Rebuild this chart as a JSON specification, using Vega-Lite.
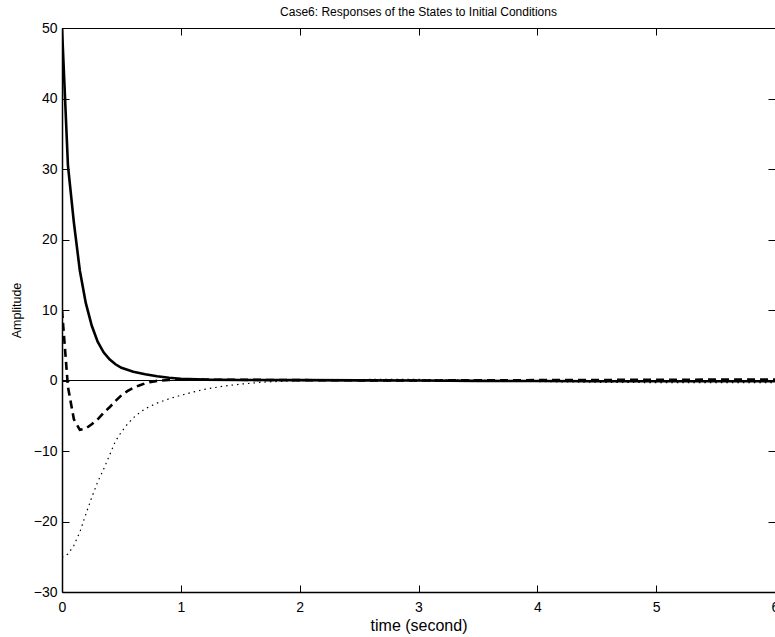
{
  "$schema": "https://vega.github.io/schema/vega-lite/v6.json",
  "width": 713,
  "height": 564,
  "autosize": {"type": "none"},
  "padding": {"left": 62, "top": 28, "right": 0, "bottom": 45},
  "background": "white",
  "title": {"text": "Case6: Responses of the States to Initial Conditions", "font": "Liberation Sans", "fontSize": 12, "fontWeight": "normal", "color": "black", "anchor": "middle", "offset": 2},
  "config": {
    "view": {"stroke": null},
    "axis": {"grid": false, "labelFont": "Liberation Sans", "labelFontSize": 14, "labelColor": "black", "domainColor": "black", "tickColor": "black", "titleFont": "Liberation Sans", "titleFontWeight": "normal", "titleColor": "black"}
  },
  "data": {"values": [
    {"t": 0, "v": 50, "s": "x1"}, {"t": 0.05, "v": 30.5, "s": "x1"}, {"t": 0.1, "v": 22.4, "s": "x1"}, {"t": 0.15, "v": 15.6, "s": "x1"}, {"t": 0.2, "v": 11, "s": "x1"}, {"t": 0.25, "v": 7.8, "s": "x1"}, {"t": 0.3, "v": 5.5, "s": "x1"}, {"t": 0.35, "v": 4.0, "s": "x1"}, {"t": 0.4, "v": 3.0, "s": "x1"}, {"t": 0.45, "v": 2.3, "s": "x1"}, {"t": 0.5, "v": 1.8, "s": "x1"}, {"t": 0.6, "v": 1.25, "s": "x1"}, {"t": 0.7, "v": 0.9, "s": "x1"}, {"t": 0.8, "v": 0.6, "s": "x1"}, {"t": 0.9, "v": 0.4, "s": "x1"}, {"t": 1.0, "v": 0.25, "s": "x1"}, {"t": 1.2, "v": 0.12, "s": "x1"}, {"t": 1.5, "v": 0.08, "s": "x1"}, {"t": 2, "v": 0.05, "s": "x1"}, {"t": 2.5, "v": 0.02, "s": "x1"}, {"t": 3, "v": 0, "s": "x1"}, {"t": 3.5, "v": -0.05, "s": "x1"}, {"t": 4, "v": -0.08, "s": "x1"}, {"t": 4.5, "v": -0.1, "s": "x1"}, {"t": 5, "v": -0.1, "s": "x1"}, {"t": 5.5, "v": -0.1, "s": "x1"}, {"t": 6, "v": -0.1, "s": "x1"},
    {"t": 0, "v": 10, "s": "x2"}, {"t": 0.05, "v": -0.9, "s": "x2"}, {"t": 0.1, "v": -5.5, "s": "x2"}, {"t": 0.15, "v": -7.0, "s": "x2"}, {"t": 0.2, "v": -6.8, "s": "x2"}, {"t": 0.25, "v": -6.2, "s": "x2"}, {"t": 0.3, "v": -5.5, "s": "x2"}, {"t": 0.35, "v": -4.6, "s": "x2"}, {"t": 0.4, "v": -3.8, "s": "x2"}, {"t": 0.45, "v": -2.9, "s": "x2"}, {"t": 0.5, "v": -2.1, "s": "x2"}, {"t": 0.55, "v": -1.5, "s": "x2"}, {"t": 0.6, "v": -1.05, "s": "x2"}, {"t": 0.65, "v": -0.7, "s": "x2"}, {"t": 0.7, "v": -0.4, "s": "x2"}, {"t": 0.75, "v": -0.2, "s": "x2"}, {"t": 0.8, "v": -0.05, "s": "x2"}, {"t": 0.9, "v": 0.08, "s": "x2"}, {"t": 1.0, "v": 0.12, "s": "x2"}, {"t": 1.2, "v": 0.12, "s": "x2"}, {"t": 1.5, "v": 0.1, "s": "x2"}, {"t": 2, "v": 0.05, "s": "x2"}, {"t": 3, "v": 0, "s": "x2"}, {"t": 4, "v": 0.05, "s": "x2"}, {"t": 5, "v": 0.1, "s": "x2"}, {"t": 6, "v": 0.15, "s": "x2"},
    {"t": 0, "v": -25.1, "s": "x3"}, {"t": 0.05, "v": -24.6, "s": "x3"}, {"t": 0.1, "v": -23.4, "s": "x3"}, {"t": 0.15, "v": -21.5, "s": "x3"}, {"t": 0.2, "v": -19.0, "s": "x3"}, {"t": 0.25, "v": -16.6, "s": "x3"}, {"t": 0.3, "v": -14.4, "s": "x3"}, {"t": 0.35, "v": -12.6, "s": "x3"}, {"t": 0.4, "v": -10.6, "s": "x3"}, {"t": 0.45, "v": -8.6, "s": "x3"}, {"t": 0.5, "v": -7.3, "s": "x3"}, {"t": 0.55, "v": -6.2, "s": "x3"}, {"t": 0.6, "v": -5.3, "s": "x3"}, {"t": 0.65, "v": -4.6, "s": "x3"}, {"t": 0.7, "v": -4.0, "s": "x3"}, {"t": 0.8, "v": -3.2, "s": "x3"}, {"t": 0.9, "v": -2.6, "s": "x3"}, {"t": 1.0, "v": -2.1, "s": "x3"}, {"t": 1.1, "v": -1.65, "s": "x3"}, {"t": 1.2, "v": -1.25, "s": "x3"}, {"t": 1.35, "v": -0.82, "s": "x3"}, {"t": 1.5, "v": -0.52, "s": "x3"}, {"t": 1.7, "v": -0.22, "s": "x3"}, {"t": 1.9, "v": -0.07, "s": "x3"}, {"t": 2.2, "v": 0.05, "s": "x3"}, {"t": 2.6, "v": 0.15, "s": "x3"}, {"t": 3.0, "v": 0.15, "s": "x3"}, {"t": 3.5, "v": 0.05, "s": "x3"}, {"t": 4.0, "v": -0.15, "s": "x3"}, {"t": 4.5, "v": -0.25, "s": "x3"}, {"t": 5, "v": -0.3, "s": "x3"}, {"t": 5.5, "v": -0.3, "s": "x3"}, {"t": 6, "v": -0.3, "s": "x3"}
  ]},
  "layer": [
    {
      "mark": {"type": "rule", "color": "black", "strokeWidth": 0.8},
      "encoding": {"y": {"datum": 0, "type": "quantitative", "scale": {"domain": [-30, 50]}, "axis": null}}
    },
    {
      "transform": [{"filter": "datum.s === 'x1'"}],
      "mark": {"type": "line", "color": "black", "strokeWidth": 2.6, "clip": true},
      "encoding": {
        "x": {"field": "t", "type": "quantitative", "scale": {"domain": [0, 6], "nice": false}, "axis": {"values": [0, 1, 2, 3, 4, 5, 6], "format": "d", "title": "time (second)", "titleFontSize": 16, "titleX": 356.5, "titleY": 33, "titleBaseline": "middle", "tickSize": -7, "labelPadding": 15, "domainWidth": 1.5, "labelFlush": false}},
        "y": {"field": "v", "type": "quantitative", "scale": {"domain": [-30, 50], "nice": false}, "axis": {"values": [-30, -20, -10, 0, 10, 20, 30, 40, 50], "format": "d", "title": "Amplitude", "titleFontSize": 12.5, "titleX": -46, "titleY": 282, "titleAngle": -90, "titleBaseline": "middle", "titleAlign": "center", "tickSize": -7, "labelPadding": 12, "domainWidth": 1.5, "labelFlush": false}}
      }
    },
    {
      "transform": [{"filter": "datum.s === 'x2'"}],
      "mark": {"type": "line", "color": "black", "strokeWidth": 2.6, "strokeDash": [8, 5], "clip": true},
      "encoding": {
        "x": {"field": "t", "type": "quantitative", "axis": null},
        "y": {"field": "v", "type": "quantitative", "axis": null}
      }
    },
    {
      "transform": [{"filter": "datum.s === 'x3'"}],
      "mark": {"type": "line", "color": "black", "strokeWidth": 1.2, "strokeDash": [1.5, 4], "clip": true},
      "encoding": {
        "x": {"field": "t", "type": "quantitative", "axis": null},
        "y": {"field": "v", "type": "quantitative", "axis": null}
      }
    },
    {
      "mark": {"type": "line", "opacity": 0},
      "encoding": {
        "x": {"field": "t", "type": "quantitative", "axis": {"orient": "top", "values": [0, 1, 2, 3, 4, 5, 6], "labels": false, "title": null, "tickSize": -7, "domainWidth": 1}},
        "y": {"field": "v", "type": "quantitative", "axis": {"orient": "right", "values": [-30, -20, -10, 0, 10, 20, 30, 40, 50], "labels": false, "title": null, "tickSize": -7, "domainWidth": 1}}
      }
    }
  ],
  "resolve": {"axis": {"x": "independent", "y": "independent"}}
}
